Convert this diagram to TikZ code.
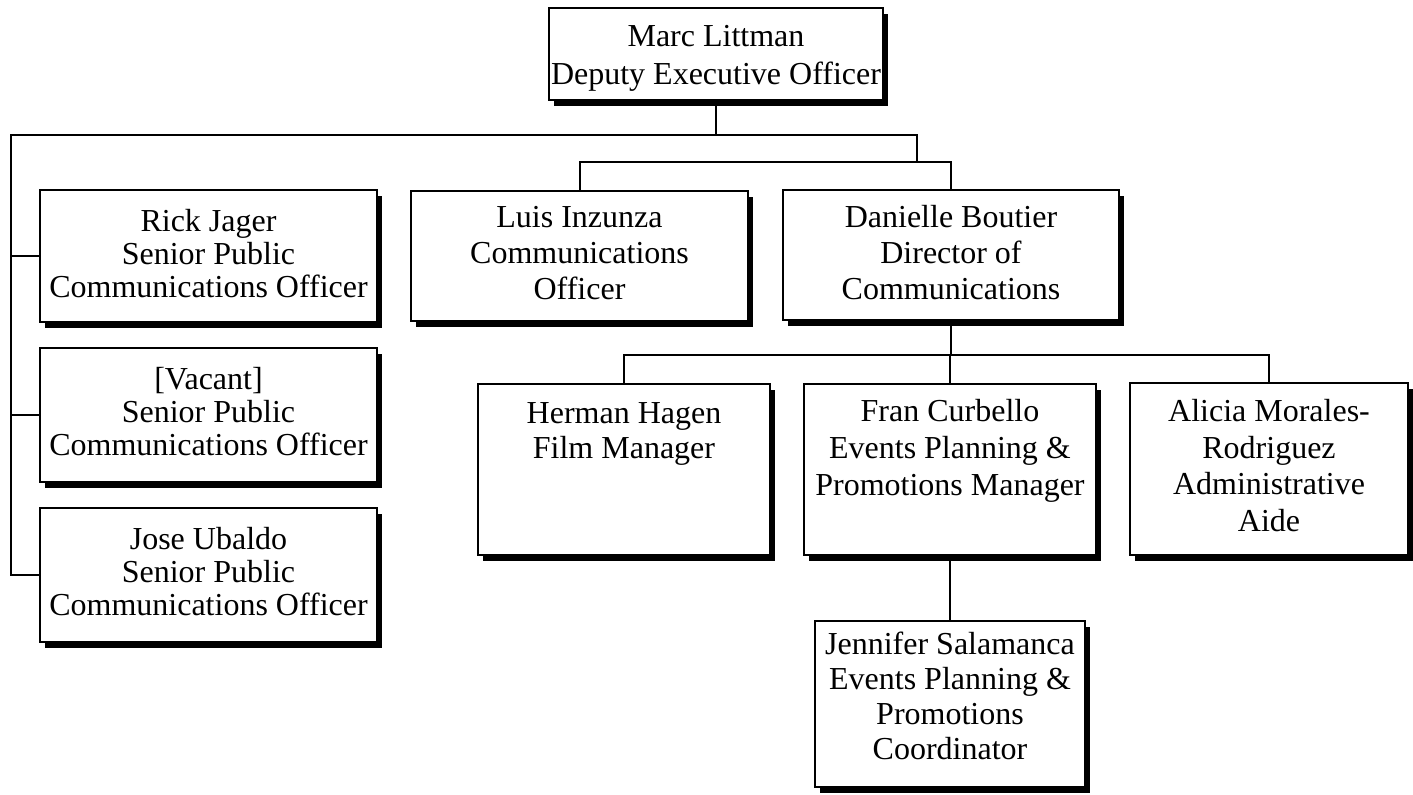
\documentclass[tikz,border=0pt]{standalone}
\usepackage{fontspec}
\setmainfont{Liberation Serif}
\usetikzlibrary{shadows}
\newcommand{\orgtxt}[5]{\parbox[c][#2][t]{#1}{\centering\fontsize{16}{#4}\selectfont\rule{0pt}{#3}#5\par}}
\begin{document}
\begin{tikzpicture}[x=0.5pt,y=-0.5pt,
  orgbox/.style={draw=black, line width=1pt, fill=white, inner sep=0pt, outer sep=0pt, anchor=north west,
     drop shadow={shadow xshift=2.5pt, shadow yshift=-3pt, opacity=1, fill=black}},
  conn/.style={draw=black, line width=1pt}]
\useasboundingbox (0,0) rectangle (1413,795);
\node[orgbox] (marc) at (549,8) {\orgtxt{167pt}{46pt}{19.5pt}{19pt}{Marc Littman\\Deputy Executive Officer}};
\node[orgbox] (rick) at (40,190) {\orgtxt{168.5pt}{66pt}{21pt}{16.5pt}{Rick Jager\\Senior Public\\Communications Officer}};
\node[orgbox] (vacant) at (40,348) {\orgtxt{168.5pt}{67pt}{21pt}{16.5pt}{[Vacant]\\Senior Public\\Communications Officer}};
\node[orgbox] (jose) at (40,508) {\orgtxt{168.5pt}{67pt}{21pt}{16.5pt}{Jose Ubaldo\\Senior Public\\Communications Officer}};
\node[orgbox] (luis) at (411,191) {\orgtxt{168.5pt}{65pt}{18.5pt}{18pt}{Luis Inzunza\\Communications\\Officer}};
\node[orgbox] (danielle) at (783,190) {\orgtxt{168pt}{65pt}{19pt}{18pt}{Danielle Boutier\\Director of\\Communications}};
\node[orgbox] (herman) at (478,384) {\orgtxt{146pt}{85.5pt}{20pt}{17.5pt}{Herman Hagen\\Film Manager}};
\node[orgbox] (fran) at (804,384) {\orgtxt{146pt}{85.5pt}{19pt}{18.5pt}{Fran Curbello\\Events Planning \&\\Promotions Manager}};
\node[orgbox] (alicia) at (1130,383) {\orgtxt{139pt}{86pt}{19.5pt}{18.25pt}{Alicia Morales-\\Rodriguez\\Administrative\\Aide}};
\node[orgbox] (jennifer) at (815,621) {\orgtxt{135pt}{83pt}{17pt}{17.5pt}{Jennifer Salamanca\\Events Planning \&\\Promotions\\Coordinator}};
\coordinate (L) at (11,135);
\coordinate (R) at (917,135);
\coordinate (M) at (917,162);
\coordinate (D) at (951,355);
\draw[conn] (marc.south) -- (marc.south |- L);
\draw[conn] (jose.west) -| (L) -- (R) -- (M);
\draw[conn] (rick.west) -- (rick.west -| L);
\draw[conn] (vacant.west) -- (vacant.west -| L);
\draw[conn] (luis.north) |- (M);
\draw[conn] (danielle.north) |- (M);
\draw[conn] (danielle.south) -- (D);
\draw[conn] (herman.north) |- (D);
\draw[conn] (alicia.north) |- (D);
\draw[conn] (fran.north) -- (fran.north |- D);
\draw[conn] (fran.south) -- (jennifer.north);
\end{tikzpicture}
\end{document}
